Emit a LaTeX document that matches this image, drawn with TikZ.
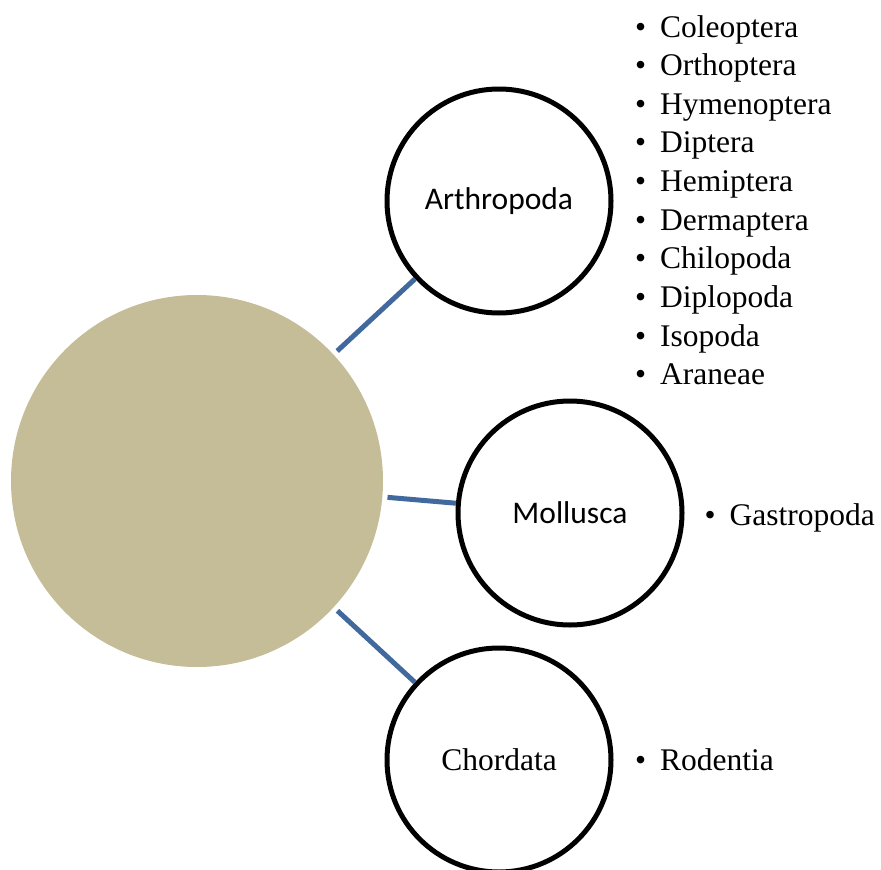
\documentclass[tikz,border=0pt]{standalone}
\usepackage{fontspec}
\setmainfont{Liberation Serif}
\newfontfamily\calibrifont{Carlito}
\usepackage{xcolor}
\usepackage{tikz}
\definecolor{beige}{HTML}{C4BD97}
\definecolor{linkblue}{HTML}{41699D}
\newcommand{\bigsize}{\fontsize{31.5}{38.6}\selectfont}

\begin{document}
\begin{tikzpicture}[x=1pt, y=-1pt,
  every node/.style={font=\bigsize},
  taxon/.style={circle, draw=black, line width=5pt, minimum size=224pt, inner sep=0pt},
  item/.style={anchor=base west, inner sep=0pt},
  link/.style={draw=linkblue, line width=5pt}]

  \useasboundingbox (0,0) rectangle (881,870);
  \clip (0,0) rectangle (881,870);

  % 1. Cerchio centrale
  \node[circle, fill=beige, minimum size=372pt] (core) at (197,481) {};

  % 2. Cerchi dei phyla
  \node[taxon, font=\calibrifont\bigsize] (arthropoda) at (499,201) {Arthropoda};
  \node[taxon, font=\calibrifont\bigsize] (mollusca) at (570,513) {Mollusca};
  \node[taxon] (chordata) at (499,760) {Chordata};

  % 3. Collegamenti
  \draw[link, shorten <=5pt] (core) -- (arthropoda);
  \draw[link, shorten <=5pt] (core) -- (mollusca);
  \draw[link, shorten <=5pt] (core) -- (chordata);

  % 4. Elenchi puntati
  \foreach \name [count=\i] in {Coleoptera, Orthoptera, Hymenoptera, Diptera, Hemiptera,
      Dermaptera, Chilopoda, Diplopoda, Isopoda, Araneae}
    \node[item] (ord\i) at (635, {37+38.65*(\i-1)}) {\textbullet\hspace{14pt}\name};
  \node[item] (gastropoda) at (704.5,525) {\textbullet\hspace{14pt}Gastropoda};
  \node[item] (rodentia) at (635,770) {\textbullet\hspace{14pt}Rodentia};

\end{tikzpicture}
\end{document}
